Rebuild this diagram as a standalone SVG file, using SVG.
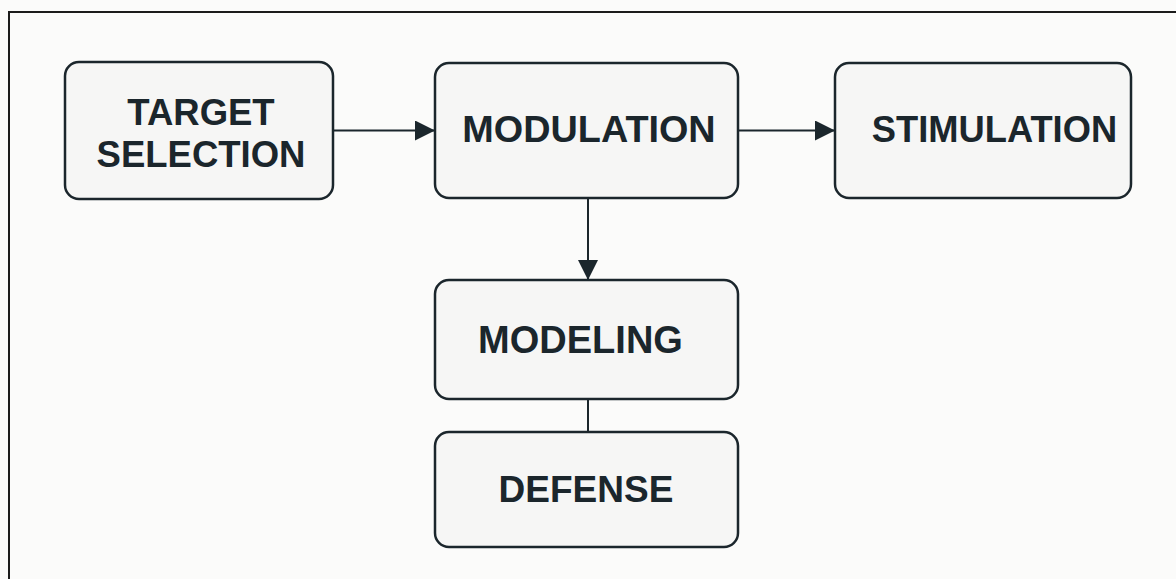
<svg xmlns="http://www.w3.org/2000/svg" width="1176" height="579" viewBox="0 0 1176 579">
<style>
.box{fill:#f6f6f5;stroke:#1b262c;stroke-width:2.5}
.lbl{font-family:"Liberation Sans",Arial,sans-serif;font-weight:bold;fill:#1b262c;text-anchor:middle}
.conn{stroke:#1b262c;stroke-width:2;fill:none}
</style>
<defs>
<marker id="ah" markerUnits="userSpaceOnUse" markerWidth="20" markerHeight="20" refX="20" refY="10" orient="auto">
<path d="M0,0 L20,10 L0,20 Z" fill="#1b262c"/>
</marker>
</defs>
<rect x="0" y="0" width="1176" height="579" fill="#fbfbfa"/>
<rect x="9" y="12" width="1190" height="600" fill="none" stroke="#1b1b1b" stroke-width="2"/>
<g id="connectors">
<line class="conn" x1="333" y1="130.5" x2="435" y2="130.5" marker-end="url(#ah)"/>
<line class="conn" x1="738" y1="130.5" x2="835" y2="130.5" marker-end="url(#ah)"/>
<line class="conn" x1="588" y1="198" x2="588" y2="280" marker-end="url(#ah)"/>
<line class="conn" x1="588" y1="399" x2="588" y2="432"/>
</g>
<g id="target-selection">
<rect class="box" x="65" y="62" width="268" height="137" rx="14"/>
<text class="lbl" x="201" y="125" font-size="36.5">TARGET</text>
<text class="lbl" x="201" y="167" font-size="36.5">SELECTION</text>
</g>
<g id="modulation">
<rect class="box" x="435" y="63" width="303" height="135" rx="14"/>
<text class="lbl" x="589" y="142" font-size="37.8">MODULATION</text>
</g>
<g id="stimulation">
<rect class="box" x="835" y="63" width="296" height="135" rx="14"/>
<text class="lbl" x="994.5" y="142" font-size="36.3">STIMULATION</text>
</g>
<g id="modeling">
<rect class="box" x="435" y="280" width="303" height="119" rx="14"/>
<text class="lbl" x="580.5" y="353" font-size="38">MODELING</text>
</g>
<g id="defense">
<rect class="box" x="435" y="432" width="303" height="115" rx="14"/>
<text class="lbl" x="586" y="502" font-size="37">DEFENSE</text>
</g>
</svg>
